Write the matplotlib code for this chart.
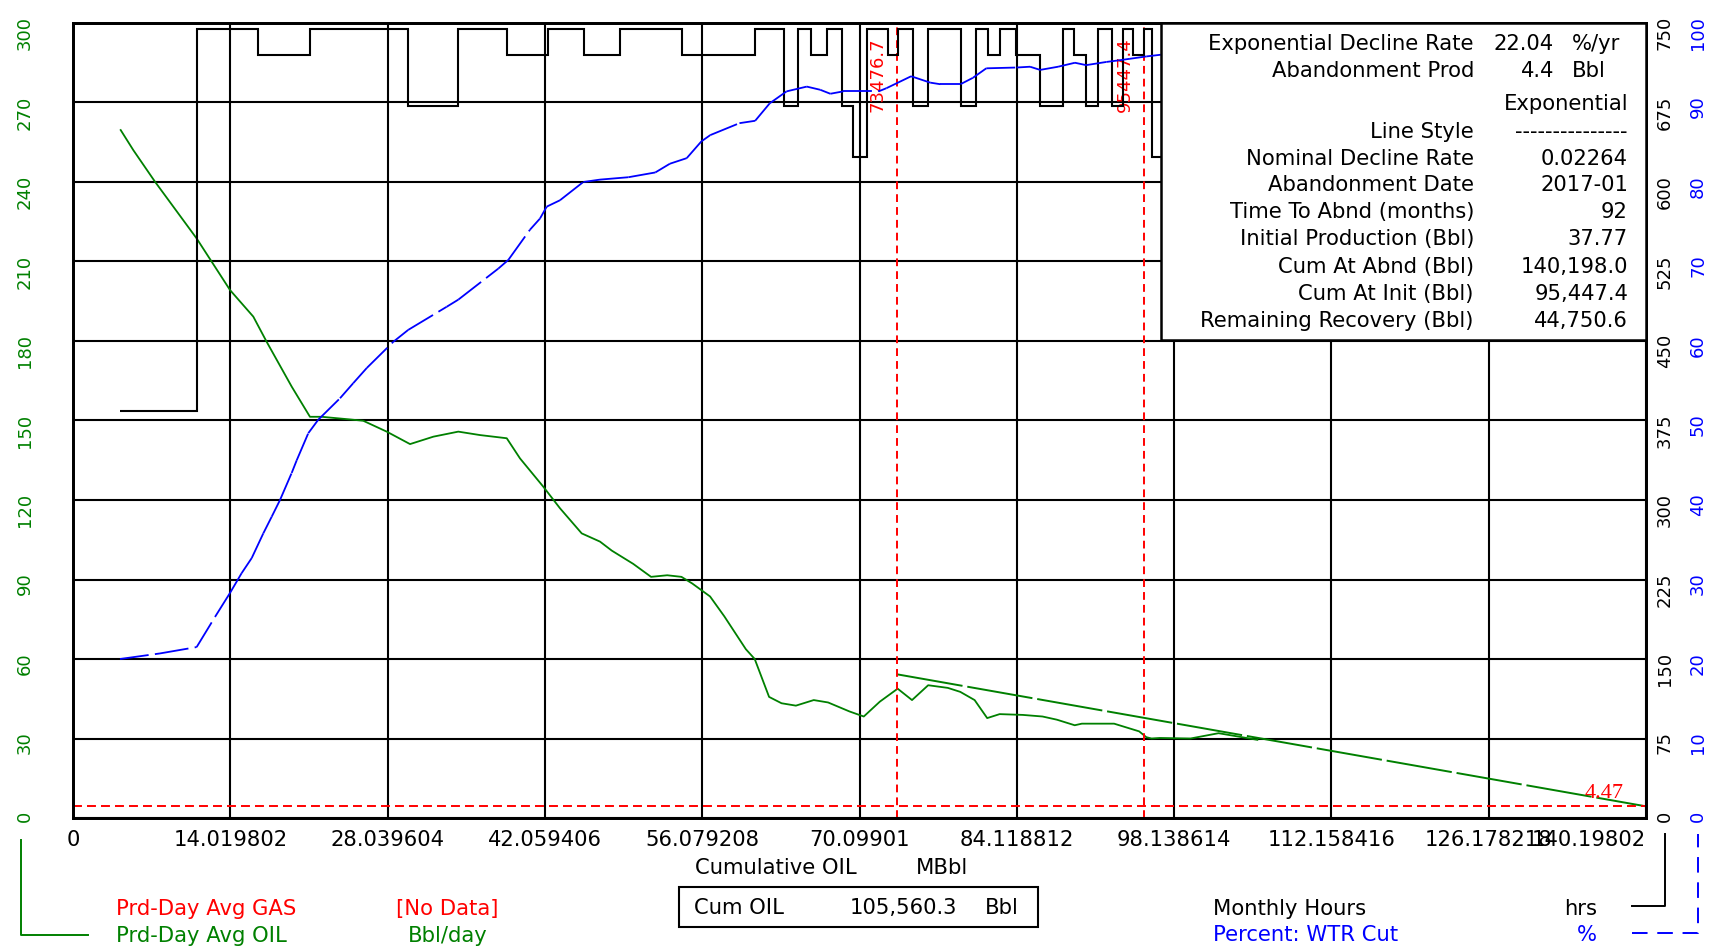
import matplotlib
matplotlib.use('Agg')
import matplotlib.pyplot as plt
from matplotlib.collections import LineCollection
from matplotlib.patches import Rectangle
from matplotlib.lines import Line2D
import numpy as np

plt.rcParams['font.family'] = ['DejaVu Sans']

GREEN = '#008000'
RED = '#ff0000'
BLUE = '#0000ff'

# cumulative oil (MBbl) vs daily oil rate (Bbl/day)
oil_cum = [4.25, 5.38, 7.31, 11.02, 14.0, 16.07, 17.26, 19.49, 21.12, 22.16, 24.69, 25.87,
           27.96, 30.04, 32.12, 34.34, 36.28, 38.66, 39.84, 41.92, 43.4, 45.34, 46.97, 48.02,
           49.93, 51.52, 52.96, 54.23, 55.19, 56.78, 58.05, 59.01, 59.97, 60.76, 62.04, 63.15,
           64.43, 66.02, 67.3, 69.21, 70.48, 71.91, 73.5, 74.78, 76.22, 77.97, 79.08, 80.36,
           81.48, 82.59, 84.66, 86.41, 87.69, 89.28, 89.92, 92.79, 95.02, 95.66, 96.13, 96.86,
           99.6, 102.1, 105.56]
oil_rate = [259.6, 252.0, 240.1, 218.7, 199.2, 189.2, 179.7, 162.8, 151.4, 151.4, 150.4, 149.9,
            145.8, 141.1, 143.9, 145.8, 144.5, 143.3, 135.7, 125.0, 116.9, 107.4, 104.3, 100.9,
            95.9, 91.0, 91.6, 91.0, 88.5, 83.6, 76.1, 69.9, 63.7, 60.0, 45.7, 43.3,
            42.4, 44.5, 43.6, 40.2, 38.3, 43.9, 48.8, 44.5, 50.1, 49.1, 47.6, 44.5,
            37.7, 39.2, 38.9, 38.3, 37.1, 35.0, 35.6, 35.6, 32.7, 30.5, 30.0, 30.2,
            30.0, 32.0, 29.5]

# exponential forecast
fc_cum = [73.4767, 140.198]
fc_rate = [54.2, 4.4]
aband_rate = 4.4
marker_cum = [73.4767, 95.4474]
marker_text = ['73476.7', '95447.4']

# water cut (%)
wtr_cum = [4.19, 7.75, 11.02, 12.66, 13.99, 15.03, 15.93, 16.96, 17.71, 18.45, 19.49, 19.94,
           20.97, 21.86, 23.8, 24.98, 26.18, 28.55, 29.88, 33.3, 34.34, 37.9, 38.8, 40.73,
           41.62, 42.22, 43.4, 45.48, 46.97, 49.5, 51.9, 53.2, 54.7, 56.0, 56.8, 59.4,
           60.8, 62.1, 63.6, 65.4, 66.6, 67.5, 68.65, 71.8, 72.5, 74.7, 76.4, 77.3,
           79.1, 80.2, 81.4, 84.1, 85.3, 86.2, 87.8, 89.3, 90.3, 92.1, 93.2, 94.2,
           95.7, 96.9, 100.5, 105.56]
wtr_pct = [20.0, 20.7, 21.5, 25.3, 28.3, 30.8, 32.7, 35.8, 37.9, 40.0, 43.4, 45.0,
           48.4, 50.1, 52.8, 54.7, 56.6, 59.9, 61.4, 64.3, 65.2, 69.1, 70.2, 74.0,
           75.4, 76.9, 77.7, 80.0, 80.3, 80.6, 81.2, 82.3, 83.0, 85.1, 85.9, 87.4,
           87.7, 89.9, 91.4, 92.0, 91.6, 91.1, 91.4, 91.4, 91.8, 93.3, 92.5, 92.3,
           92.3, 93.1, 94.3, 94.4, 94.5, 94.1, 94.5, 95.0, 94.7, 95.1, 95.3, 95.5,
           95.8, 96.0, 96.3, 96.5]

# monthly hours as steps
hours_edges = [4.19, 11.02, 16.49, 21.15, 29.86, 34.34, 38.65, 42.36, 45.54, 48.75, 54.25,
               60.78, 63.37, 64.64, 65.78, 67.17, 68.51, 69.55, 70.74, 72.67, 73.56, 74.89,
               76.17, 79.14, 80.48, 81.52, 82.62, 84.05, 86.19, 88.26, 89.24, 90.28, 91.38,
               92.57, 93.6, 94.5, 95.5, 96.2, 98.5, 101.0, 103.5, 105.56]
hours_val = [384, 744, 720, 744, 672, 744, 720, 744, 720, 744, 720,
             744, 672, 744, 720, 744, 672, 624, 744, 720, 744, 672,
             744, 672, 744, 720, 744, 720, 672, 744, 720, 672, 744,
             672, 744, 720, 744, 624, 744, 720, 744]

xtick_vals = [0, 14.019802, 28.039604, 42.059406, 56.079208, 70.09901, 84.118812,
              98.138614, 112.158416, 126.178218, 140.19802]
xtick_labels = ['0', '14.019802', '28.039604', '42.059406', '56.079208', '70.09901',
                '84.118812', '98.138614', '112.158416', '126.178218', '140.19802']

table_labels = ['Exponential Decline Rate', 'Abandonment Prod', '', 'Line Style',
                'Nominal Decline Rate', 'Abandonment Date', 'Time To Abnd (months)',
                'Initial Production (Bbl)', 'Cum At Abnd (Bbl)', 'Cum At Init (Bbl)',
                'Remaining Recovery (Bbl)']
table_values = ['22.04', '4.4', 'Exponential', '---------------', '0.02264', '2017-01', '92',
                '37.77', '140,198.0', '95,447.4', '44,750.6']
table_units = ['%/yr', 'Bbl']
cum_oil_now = '105,560.3'

W, H = 1721, 948
def fx(px):
    return px / W
def fy(py):
    return 1 - py / H

FS = 15.2
RS = 13

fig = plt.figure(figsize=(W / 100, H / 100), dpi=100)
ax = fig.add_axes([fx(73), fy(818), fx(1646) - fx(73), fy(23) - fy(818)])
ax.set_xlim(0, 140.19802)
ax.set_ylim(0, 300)
ax.set_xticks(xtick_vals, xtick_labels)
ax.set_yticks(np.arange(0, 301, 30))
ax.tick_params(axis='x', length=0, pad=9, labelsize=FS)
ax.tick_params(axis='y', length=0, pad=28, labelsize=RS, labelrotation=90, labelcolor=GREEN)
ax.get_xticklabels()[-1].set_horizontalalignment('right')
ax.grid(True, color='black', lw=1.5)
ax.set_axisbelow(True)
for s in ax.spines.values():
    s.set_linewidth(1.8)

ax.plot(oil_cum, oil_rate, color=GREEN, lw=1.3)
ax.plot(fc_cum, fc_rate, color=GREEN, lw=1.4, ls=(0, (34, 2.5)))
ax.axhline(aband_rate, color=RED, lw=1.4, ls=(0, (4.6, 2.6)))
for c, t in zip(marker_cum, marker_text):
    ax.axvline(c, color=RED, lw=1.4, ls=(0, (4.0, 2.6)))
    ax.annotate(t, xy=(c, 1), xycoords=('data', 'axes fraction'), xytext=(-14, -10),
                textcoords='offset points', rotation=90, ha='center', va='top',
                color=RED, fontsize=RS)
ax.annotate('4.47', xy=(fc_cum[-1], fc_rate[-1]), xytext=(-16, 9), textcoords='offset points',
            ha='right', va='center', color=RED, fontsize=16, family='Liberation Serif')

ax_h = ax.twinx()
ax_h.set_ylim(0, 750)
ax_h.set_yticks(np.arange(0, 751, 75))
ax_h.tick_params(axis='y', length=0, pad=7, labelsize=RS, labelrotation=90, labelcolor='black')
ax_h.stairs(hours_val, hours_edges, baseline=None, color='black', lw=1.5)

ax_w = ax.twinx()
ax_w.set_ylim(0, 100)
ax_w.set_yticks(np.arange(0, 101, 10))
ax_w.tick_params(axis='y', length=0, pad=31, labelsize=RS, labelrotation=90, labelcolor=BLUE)
pts = np.column_stack([wtr_cum, wtr_pct])
segs = np.stack([pts[:-1], pts[1:]], axis=1)
ax_w.add_collection(LineCollection(segs, colors=BLUE, linewidths=1.3,
                                   linestyles=[(0, (16, 3.5))]))
for a in (ax_h, ax_w):
    for s in a.spines.values():
        s.set_linewidth(1.8)

# decline table
fig.add_artist(Rectangle((fx(1161), fy(340)), fx(1646) - fx(1161), fy(23) - fy(340),
                         transform=fig.transFigure, facecolor='white', edgecolor='black',
                         lw=1.8, zorder=5))
row_y = [44, 71, 104, 132, 159, 185, 212, 239, 267, 294, 321]
for i, (lab, val) in enumerate(zip(table_labels, table_values)):
    y = fy(row_y[i])
    fig.text(fx(1474), y, lab, ha='right', va='center', fontsize=FS, zorder=6)
    if i < len(table_units):
        fig.text(fx(1554), y, val, ha='right', va='center', fontsize=FS, zorder=6)
        fig.text(fx(1572), y, table_units[i], ha='left', va='center', fontsize=FS, zorder=6)
    else:
        fig.text(fx(1628), y, val, ha='right', va='center', fontsize=FS, zorder=6)

# axis title and cum box
fig.text(fx(695), fy(868), 'Cumulative OIL', ha='left', va='center', fontsize=FS)
fig.text(fx(916), fy(868), 'MBbl', ha='left', va='center', fontsize=FS)
fig.add_artist(Rectangle((fx(679), fy(927)), fx(1038) - fx(679), fy(887) - fy(927),
                         transform=fig.transFigure, facecolor='none', edgecolor='black', lw=1.5))
fig.text(fx(694), fy(908), 'Cum OIL', ha='left', va='center', fontsize=FS)
fig.text(fx(957), fy(908), cum_oil_now, ha='right', va='center', fontsize=FS)
fig.text(fx(985), fy(908), 'Bbl', ha='left', va='center', fontsize=FS)

# left legend
fig.text(fx(116), fy(909), 'Prd-Day Avg GAS', ha='left', va='center', fontsize=FS, color=RED)
fig.text(fx(396), fy(909), '[No Data]', ha='left', va='center', fontsize=FS, color=RED)
fig.text(fx(116), fy(936), 'Prd-Day Avg OIL', ha='left', va='center', fontsize=FS, color=GREEN)
fig.text(fx(408), fy(936), 'Bbl/day', ha='left', va='center', fontsize=FS, color=GREEN)
fig.add_artist(Line2D([fx(21), fx(21), fx(88)], [fy(840), fy(935), fy(935)],
                      transform=fig.transFigure, color=GREEN, lw=1.4))

# right legend
fig.text(fx(1213), fy(909), 'Monthly Hours', ha='left', va='center', fontsize=FS)
fig.text(fx(1597), fy(909), 'hrs', ha='right', va='center', fontsize=FS)
fig.text(fx(1213), fy(935), 'Percent: WTR Cut', ha='left', va='center', fontsize=FS, color=BLUE)
fig.text(fx(1597), fy(935), '%', ha='right', va='center', fontsize=FS, color=BLUE)
fig.add_artist(Line2D([fx(1632), fx(1665), fx(1665)], [fy(906), fy(906), fy(834)],
                      transform=fig.transFigure, color='black', lw=1.4))
fig.add_artist(Line2D([fx(1632), fx(1698), fx(1698)], [fy(933), fy(933), fy(834)],
                      transform=fig.transFigure, color=BLUE, lw=1.4, ls=(0, (8, 5))))

fig.savefig('out.png', dpi=100)
